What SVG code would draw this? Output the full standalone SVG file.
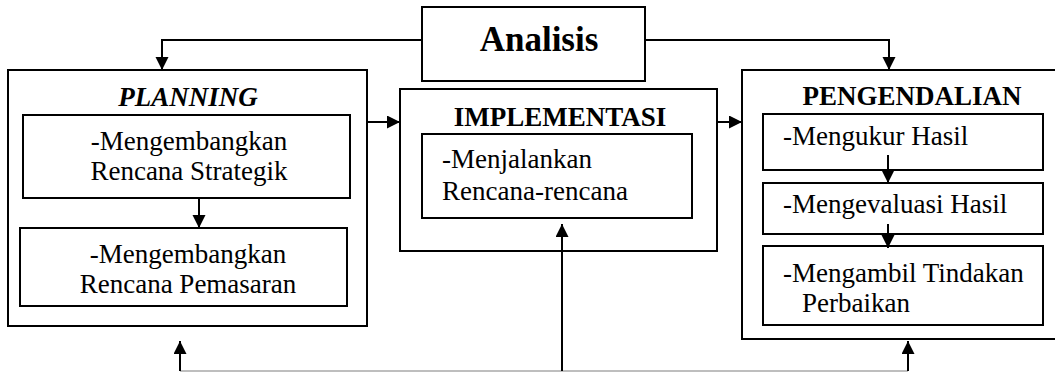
<svg xmlns="http://www.w3.org/2000/svg" width="1055" height="372" viewBox="0 0 1055 372">
  <style>
    .box { fill: #ffffff; stroke: #000000; stroke-width: 2; }
    .txt { font-family: "Liberation Serif", "Times New Roman", serif; font-size: 27px; fill: #000000; }
    .head { font-family: "Liberation Serif", "Times New Roman", serif; font-size: 27px; font-weight: bold; fill: #000000; }
    .title { font-family: "Liberation Serif", "Times New Roman", serif; font-size: 35px; font-weight: bold; fill: #000000; }
    .mid { text-anchor: middle; }
    .link { fill: none; stroke: #000000; stroke-width: 2; }
    .base { fill: none; stroke: #a8a8a8; stroke-width: 1.5; }
  </style>
  <defs>
    <marker id="arrow" markerUnits="userSpaceOnUse" markerWidth="14" markerHeight="14" refX="13" refY="6.5" orient="auto">
      <path d="M0,0 L13,6.5 L0,13 Z" fill="#000000"/>
    </marker>
  </defs>
  <rect width="1055" height="372" fill="#ffffff"/>

  <!-- Analisis -->
  <g id="analisis">
    <rect class="box" x="422" y="7" width="223" height="74"/>
    <text class="title mid" x="539" y="51">Analisis</text>
  </g>

  <!-- Planning stage -->
  <g id="planning">
    <rect class="box" x="8" y="70" width="359" height="256"/>
    <text class="head mid" x="188" y="106" font-style="italic">PLANNING</text>
  </g>
  <g id="rencana-strategik">
    <rect class="box" x="23" y="115" width="327" height="83"/>
    <text class="txt mid" x="189" y="150">-Mengembangkan</text>
    <text class="txt mid" x="189" y="180">Rencana Strategik</text>
  </g>
  <g id="rencana-pemasaran">
    <rect class="box" x="20" y="228" width="327" height="78"/>
    <text class="txt mid" x="188" y="263">-Mengembangkan</text>
    <text class="txt mid" x="188" y="293">Rencana Pemasaran</text>
  </g>

  <!-- Implementation stage -->
  <g id="implementasi">
    <rect class="box" x="400" y="89" width="317" height="162"/>
    <text class="head mid" x="560" y="126">IMPLEMENTASI</text>
  </g>
  <g id="menjalankan">
    <rect class="box" x="422" y="134" width="270" height="84"/>
    <text class="txt" x="442" y="168">-Menjalankan</text>
    <text class="txt" x="442" y="200">Rencana-rencana</text>
  </g>

  <!-- Control stage -->
  <g id="pengendalian">
    <rect class="box" x="742" y="70" width="330" height="269"/>
    <text class="head mid" x="912" y="105">PENGENDALIAN</text>
  </g>
  <g id="mengukur">
    <rect class="box" x="763" y="114" width="280" height="56"/>
    <text class="txt" x="783" y="145">-Mengukur Hasil</text>
  </g>
  <g id="mengevaluasi">
    <rect class="box" x="763" y="183" width="280" height="51"/>
    <text class="txt" x="783" y="213">-Mengevaluasi Hasil</text>
  </g>
  <g id="mengambil">
    <rect class="box" x="763" y="246" width="280" height="79"/>
    <text class="txt" x="783" y="282">-Mengambil Tindakan</text>
    <text class="txt" x="802" y="312">Perbaikan</text>
  </g>

  <!-- Connectors -->
  <g id="connectors">
    <path class="link" d="M422,40 H162 V70" marker-end="url(#arrow)"/>
    <path class="link" d="M645,40 H889 V70" marker-end="url(#arrow)"/>
    <path class="link" d="M367,122 H400" marker-end="url(#arrow)"/>
    <path class="link" d="M717,122 H742" marker-end="url(#arrow)"/>
    <path class="link" d="M199,198 V228" marker-end="url(#arrow)"/>
    <path class="link" d="M888,155 V183" marker-end="url(#arrow)"/>
    <path class="link" d="M888,224 V248" marker-end="url(#arrow)"/>
    <path class="base" d="M180,371 H908"/>
    <path class="link" d="M180,371 V341" marker-end="url(#arrow)"/>
    <path class="link" d="M562,371 V224" marker-end="url(#arrow)"/>
    <path class="link" d="M908,371 V341" marker-end="url(#arrow)"/>
  </g>
</svg>
